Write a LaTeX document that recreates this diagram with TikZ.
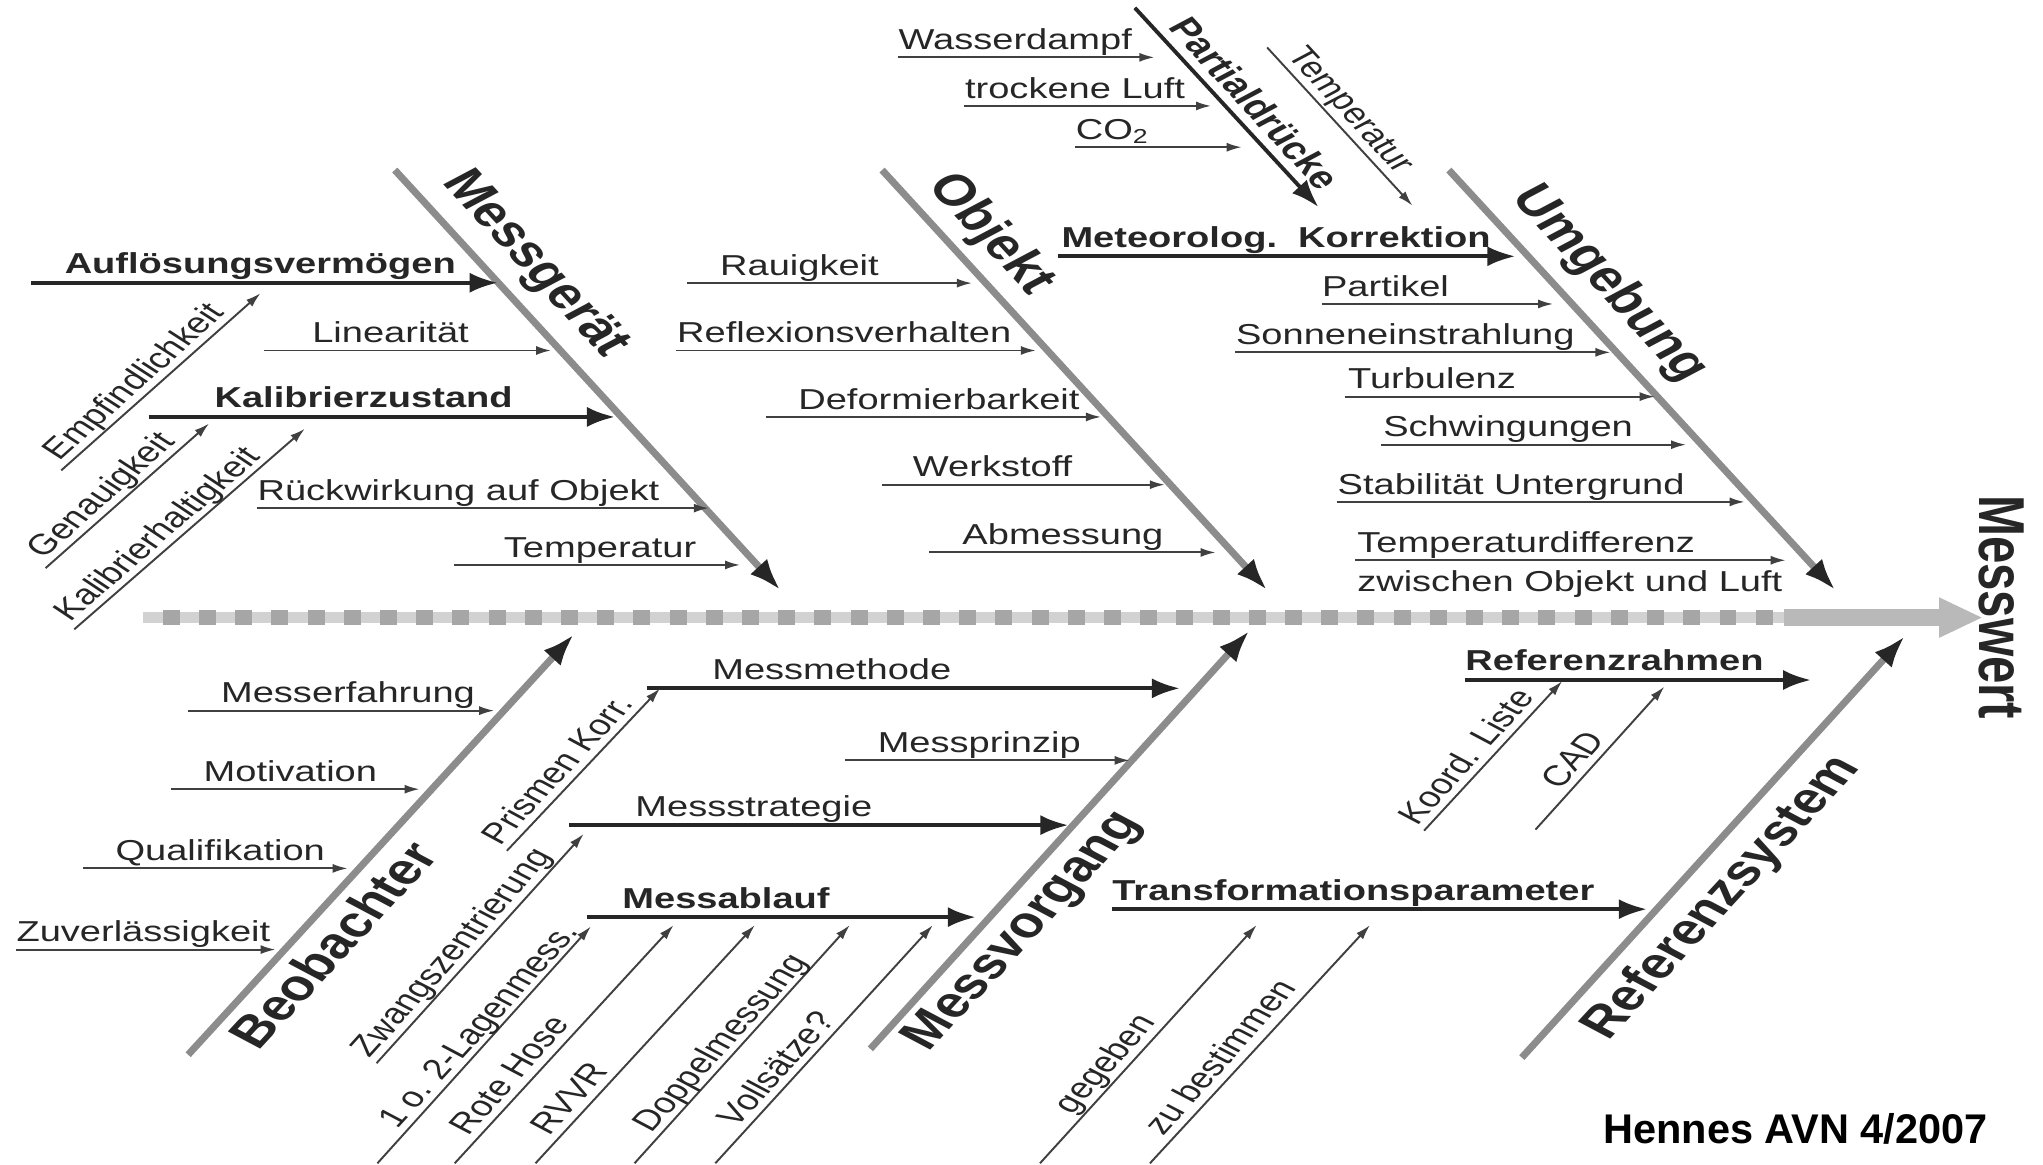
\documentclass[tikz,border=0pt]{standalone}
\usepackage{fontspec}
\setmainfont{Liberation Sans}
\usetikzlibrary{arrows.meta}

\tikzset{
	lbl/.style={font=\fontsize{8.2}{10}\selectfont, text=black!85, inner sep=0pt, xscale=1.32},
	blbl/.style={lbl, font=\fontsize{8.2}{10}\selectfont\bfseries},
	bonelbl/.style={font=\fontsize{12.4}{15}\selectfont\bfseries, text=black!85, inner sep=0pt, xscale=1.32},
	thinarr/.style={draw=black!75, line width=0.55pt, -{Latex[length=1.5mm,width=0.9mm]}},
	boldarr/.style={draw=black!85, line width=1.1pt, -{Latex[length=2.8mm,width=2mm]}},
	bone/.style={draw=gray!90, line width=2pt, -{Latex[length=3.2mm,width=2.3mm,color=black!85]}},
}

\begin{document}
\begin{tikzpicture}[x=0.1303mm, y=-0.1303mm]
		\useasboundingbox (0,0) rectangle (1568,894);
		
		% spine
		\coordinate (sp0) at (110,474);
		\coordinate (sp1) at (1369,474);
		\coordinate (sp2) at (1522,474);
		\draw[gray!35, line width=1.05mm] (sp0) -- (sp1);
		\draw[gray!70, line width=1.45mm, dash pattern=on 1.69mm off 1.93mm] (125,474) -- (1366,474);
		\draw[gray!55, line width=1.65mm, -{Triangle[length=4.4mm,width=3.7mm]}] (sp1) -- (sp2);
		\node[bonelbl, font=\fontsize{14}{16}\selectfont\bfseries, rotate=-90] (messwert) at (1536,466) {Messwert};
		
		% main bones, upper side
		\foreach \xa/\xb [count=\i] in {303/599, 677/972.6, 1112/1408.7}{
			\draw[bone] (\xa,130.5) coordinate (top\i) -- (\xb,453) coordinate (topend\i);
		}
		% main bones, lower side
		\foreach \xa/\ya/\xb/\yb [count=\i] in {144.4/809.5/440.5/486.8, 668/805/959/484, 1168/811.7/1462/488.2}{
			\draw[bone] (\xa,\ya) coordinate (bot\i) -- (\xb,\yb) coordinate (botend\i);
		}
		
		\node[bonelbl, rotate=-55] (messgeraet) at (410,203) {Messgerät};
		\node[bonelbl, rotate=-55] (objekt) at (760,180) {Objekt};
		\node[bonelbl, rotate=-55] (umgebung) at (1235,218) {Umgebung};
		\node[bonelbl, rotate=55] (beobachter) at (255,725) {Beobachter};
		\node[bonelbl, rotate=55] (messvorgang) at (786,715) {Messvorgang};
		\node[bonelbl, rotate=55] (referenzsystem) at (1322,689) {Referenzsystem};
		
		% thin horizontal causes
		\foreach \xa/\xt/\y/\xb/\t [count=\i] in {
			203/239/269/423/Linearität,
			197/197/390/544/Rückwirkung auf Objekt,
			348.5/386/433.6/568/Temperatur,
			527/552/217.3/746/Rauigkeit,
			519/519/269/795/Reflexionsverhalten,
			588/612/320/845/Deformierbarkeit,
			677/700/372/894/Werkstoff,
			713/738/424/933/Abmessung,
			689/689/44/886/Wasserdampf,
			740/740/81.3/929.5/trockene Luft,
			825/825/113/953/{CO\textsubscript{2}},
			1015/1014/233.3/1192/Partikel,
			948/948/270.4/1236/Sonneneinstrahlung,
			1032/1034/304.4/1270/Turbulenz,
			1060/1061/341.3/1294/Schwingungen,
			1026/1026/385.2/1339/Stabilität Untergrund,
			1040/1041/430/1370.5/Temperaturdifferenz,
			144.4/169/545.4/379.3/Messerfahrung,
			131/155.6/605.7/322/Motivation,
			63.6/88/666.5/266.8/Qualifikation,
			12/12/728.8/211.5/Zuverlässigkeit,
			648.5/673/583.6/867/Messprinzip}{
			\draw[thinarr] (\xa,\y) -- (\xb,\y);
			\node[lbl, anchor=base west] (h\i) at (\xt,\y-6) {\t};
		}
		\node[lbl, anchor=base west] (zwischen) at (1041,454) {zwischen Objekt und Luft};
		
		% bold horizontal causes
		\foreach \xa/\xt/\y/\xb/\t [count=\i] in {
			24/49/217/382/Auflösungsvermögen,
			114/164/320/472/Kalibrierzustand,
			812/814/196.7/1163/{Meteorolog.\ \ Korrektion},
			450.3/477/703.9/749/Messablauf,
			853.2/853/697.8/1264/Transformationsparameter,
			1124/1124/521.9/1390/Referenzrahmen}{
			\draw[boldarr] (\xa,\y) -- (\xb,\y);
			\node[blbl, anchor=base west] (b\i) at (\xt,\y-7) {\t};
		}
		\foreach \xa/\xt/\y/\xb/\t [count=\i] in {
			496.8/546/528.3/905.6/Messmethode,
			437/487/633.3/820/Messstrategie}{
			\draw[boldarr] (\xa,\y) -- (\xb,\y);
			\node[lbl, anchor=base west] (m\i) at (\xt,\y-7) {\t};
		}
		
		% slanted sub-causes
		\foreach \ax/\ay/\bx/\by/\ang/\d/\t [count=\i] in {
			47/361/200/225/49.6/1.5/Empfindlichkeit,
			35/436/160.5/325/49.4/1.4/Genauigkeit,
			57/483/234/329/48.7/0.7/Kalibrierhaltigkeit,
			389/653/506.6/528.3/54.4/0/Prismen Korr.,
			289/816/448/640/55.6/0/Zwangszentrierung,
			289.7/892.8/453.5/711/55.1/10/1 o. 2-Lagenmess.,
			349/892.8/517/710/55.3/7.7/Rote Hose,
			411/892.8/579.4/710/55/7.7/RVVR,
			487/892.8/652.2/710/55/8.8/Doppelmessung,
			549/892.8/716/710/55/10.5/Vollsätze?,
			798.2/892.8/964.5/710/55.6/15/gegeben,
			882.6/892.8/1051.5/710/55.5/7.7/zu bestimmen,
			1093/637.5/1199/522.7/55/0/Koord. Liste,
			1178.5/636.7/1277.4/527/55.7/12/CAD}{
			\draw[thinarr] (\ax,\ay) -- (\bx,\by)
				node[pos=0, lbl, anchor=base west, rotate=\ang, xshift=\d pt, yshift=1.9pt] (d\i) {\t};
		}
		
		% partial pressures and temperature
		\draw[boldarr] (871,6) -- (1012,159)
			node[pos=0, lbl, font=\fontsize{9}{11}\selectfont\bfseries, anchor=base west, rotate=-55, xshift=8pt, yshift=2.5pt] (partial) {Partialdrücke};
		\draw[thinarr] (972.5,36.4) -- (1084,157.8)
			node[pos=0, lbl, anchor=base west, rotate=-55, xshift=4pt, yshift=2.2pt] (temp) {Temperatur};
		
		% source
		\node[font=\fontsize{11.8}{14}\selectfont\bfseries, inner sep=0pt, anchor=base east] (quelle) at (1526,878) {Hennes AVN 4/2007};
		
	\end{tikzpicture}
\end{document}
